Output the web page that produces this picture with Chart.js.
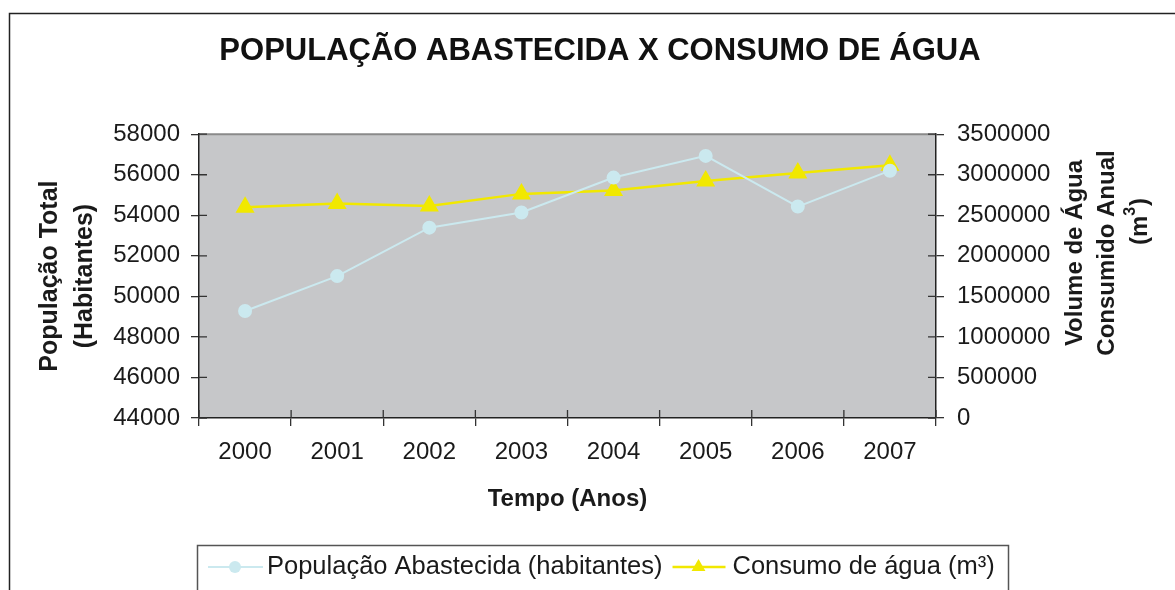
<!DOCTYPE html>
<html>
<head>
<meta charset="utf-8">
<script src="https://cdn.jsdelivr.net/npm/chart.js@4.4.1/dist/chart.umd.min.js"></script>
<style>
  html, body { margin: 0; padding: 0; background: #fff; }
  #wrap { width: 1175px; height: 590px; }
</style>
</head>
<body>
<div id="wrap"><canvas id="chart" width="1175" height="590"></canvas></div>
<script>
const anos = ["2000", "2001", "2002", "2003", "2004", "2005", "2006", "2007"];
const populacao = [49280, 51000, 53390, 54140, 55860, 56930, 54430, 56200];
const consumo = [2600000, 2645000, 2616000, 2764000, 2805000, 2924000, 3022000, 3116000];

const tituloGrafico = "POPULAÇÃO ABASTECIDA X CONSUMO DE ÁGUA";
const tituloEixoX = "Tempo (Anos)";
const tituloEixoY = ["População Total", "(Habitantes)"];
const tituloEixoY1 = ["Volume de Água", "Consumido Anual"];
const legendaPop = "População Abastecida (habitantes)";
const legendaConsumo = "Consumo de água (m³)";

const corPop = "#cbe9ef";
const corConsumo = "#f1e800";
const corFundo = "#c6c7c9";
const fonte = '"Liberation Sans", Arial, sans-serif';

Chart.defaults.font.family = fonte;
Chart.defaults.color = "#1a1a1a";

// fundo cinza da area de plotagem + moldura externa
const fundoPlugin = {
  id: "fundo",
  beforeDraw(chart) {
    const { ctx, chartArea: a } = chart;
    ctx.save();
    ctx.fillStyle = corFundo;
    ctx.fillRect(a.left, a.top, a.right - a.left, a.bottom - a.top);
    ctx.strokeStyle = "#8a8a8a";
    ctx.lineWidth = 2;
    ctx.beginPath();
    ctx.moveTo(a.left, a.top);
    ctx.lineTo(a.right, a.top);
    ctx.stroke();
    ctx.strokeStyle = "#222";
    ctx.lineWidth = 1.5;
    ctx.strokeRect(9.5, 13.5, 1400, 800);
    ctx.restore();
  }
};

// parte interna das marcas dos eixos
const marcasPlugin = {
  id: "marcas",
  afterDraw(chart) {
    const { ctx, chartArea: a, scales } = chart;
    ctx.save();
    ctx.strokeStyle = "#333";
    ctx.lineWidth = 1.3;
    ctx.beginPath();
    for (let i = 0; i <= anos.length; i++) {
      const px = scales.x.getPixelForValue(i - 0.5);
      ctx.moveTo(px, a.bottom);
      ctx.lineTo(px, a.bottom - 8);
    }
    scales.y.ticks.forEach(t => {
      const py = scales.y.getPixelForValue(t.value);
      ctx.moveTo(a.left, py);
      ctx.lineTo(a.left + 8, py);
    });
    scales.y1.ticks.forEach(t => {
      const py = scales.y1.getPixelForValue(t.value);
      ctx.moveTo(a.right, py);
      ctx.lineTo(a.right - 8, py);
    });
    ctx.stroke();
    ctx.restore();
  }
};

// titulo do eixo direito (lido de baixo para cima) e legenda
const extrasPlugin = {
  id: "extras",
  afterDraw(chart) {
    const { ctx } = chart;
    ctx.save();
    ctx.fillStyle = "#1a1a1a";
    ctx.font = "bold 24px " + fonte;
    ctx.textAlign = "center";
    ctx.textBaseline = "middle";
    const xs = [1075, 1107];
    tituloEixoY1.forEach((txt, i) => {
      ctx.save();
      ctx.translate(xs[i], 253);
      ctx.rotate(-Math.PI / 2);
      ctx.fillText(txt, 0, 0);
      ctx.restore();
    });
    // (m³) com expoente
    ctx.save();
    ctx.translate(1140, 222);
    ctx.rotate(-Math.PI / 2);
    ctx.textAlign = "left";
    const w1 = ctx.measureText("(m").width;
    const w3 = ctx.measureText(")").width;
    ctx.font = "bold 16px " + fonte;
    const w2 = ctx.measureText("3").width;
    let x0 = -(w1 + w2 + w3) / 2;
    ctx.font = "bold 24px " + fonte;
    ctx.fillText("(m", x0, 0);
    ctx.font = "bold 16px " + fonte;
    ctx.fillText("3", x0 + w1, -9);
    ctx.font = "bold 24px " + fonte;
    ctx.fillText(")", x0 + w1 + w2 + 1, 0);
    ctx.restore();

    // legenda
    ctx.strokeStyle = "#555";
    ctx.lineWidth = 1.5;
    ctx.strokeRect(197.5, 545.5, 811, 80);
    const ly = 567;
    ctx.font = "25.5px " + fonte;
    ctx.textAlign = "left";
    ctx.textBaseline = "middle";
    let x = 208;
    ctx.strokeStyle = corPop;
    ctx.lineWidth = 2;
    ctx.beginPath(); ctx.moveTo(x, ly); ctx.lineTo(x + 55, ly); ctx.stroke();
    ctx.fillStyle = corPop;
    ctx.beginPath(); ctx.arc(x + 27, ly, 6, 0, Math.PI * 2); ctx.fill();
    x += 59;
    ctx.fillStyle = "#1a1a1a";
    ctx.fillText(legendaPop, x, ly);
    x += ctx.measureText(legendaPop).width + 10;
    ctx.strokeStyle = corConsumo;
    ctx.lineWidth = 2.5;
    ctx.beginPath(); ctx.moveTo(x, ly); ctx.lineTo(x + 53, ly); ctx.stroke();
    ctx.fillStyle = corConsumo;
    const cx = x + 26, r = 8;
    ctx.beginPath();
    ctx.moveTo(cx, ly - r);
    ctx.lineTo(cx + r * 0.866, ly + r / 2);
    ctx.lineTo(cx - r * 0.866, ly + r / 2);
    ctx.closePath(); ctx.fill();
    x += 60;
    ctx.fillStyle = "#1a1a1a";
    ctx.fillText(legendaConsumo, x, ly);
    ctx.restore();
  }
};

new Chart(document.getElementById("chart"), {
  type: "line",
  data: {
    labels: anos,
    datasets: [
      {
        label: legendaPop,
        data: populacao,
        yAxisID: "y",
        borderColor: corPop,
        backgroundColor: corPop,
        borderWidth: 2,
        pointStyle: "circle",
        pointRadius: 6,
        pointHoverRadius: 6,
        tension: 0
      },
      {
        label: legendaConsumo,
        data: consumo,
        yAxisID: "y1",
        borderColor: corConsumo,
        backgroundColor: corConsumo,
        borderWidth: 2.5,
        pointStyle: "triangle",
        pointRadius: 8.5,
        pointHoverRadius: 8.5,
        tension: 0
      }
    ]
  },
  options: {
    responsive: false,
    animation: false,
    layout: { padding: { left: 25, right: 0, top: 0, bottom: 0 } },
    plugins: {
      legend: { display: false },
      tooltip: { enabled: false },
      title: {
        display: true,
        text: tituloGrafico,
        color: "#111",
        font: { size: 31, weight: "bold" },
        padding: { top: 33, bottom: 64 }
      }
    },
    scales: {
      x: {
        offset: true,
        grid: { offset: true, drawOnChartArea: false, tickLength: 8, color: "#333", lineWidth: 1.3 },
        border: { color: "#222", width: 1.5 },
        ticks: { font: { size: 24 }, padding: 12, color: "#1a1a1a" },
        title: {
          display: true,
          text: tituloEixoX,
          font: { size: 24, weight: "bold" },
          color: "#1a1a1a",
          padding: { top: 0, bottom: 76 }
        },
        afterFit: s => { s.height = 172; }
      },
      y: {
        position: "left",
        min: 44000,
        max: 58000,
        grid: { drawOnChartArea: false, tickLength: 8, color: "#333", lineWidth: 1.3 },
        border: { color: "#222", width: 1.5 },
        ticks: { stepSize: 2000, font: { size: 24 }, padding: 11, color: "#1a1a1a", callback: v => String(v) },
        title: {
          display: true,
          text: tituloEixoY,
          font: { size: 25, weight: "bold", lineHeight: 1.4 },
          color: "#1a1a1a",
          padding: { top: 8, bottom: 0 }
        },
        afterFit: s => { s.width = 174; }
      },
      y1: {
        position: "right",
        min: 0,
        max: 3500000,
        grid: { drawOnChartArea: false, tickLength: 8, color: "#333", lineWidth: 1.3 },
        border: { color: "#222", width: 1.5 },
        ticks: { stepSize: 500000, font: { size: 24 }, padding: 13, color: "#1a1a1a", callback: v => String(v) },
        afterFit: s => { s.width = 239; }
      }
    }
  },
  plugins: [fundoPlugin, marcasPlugin, extrasPlugin]
});
</script>
</body>
</html>
